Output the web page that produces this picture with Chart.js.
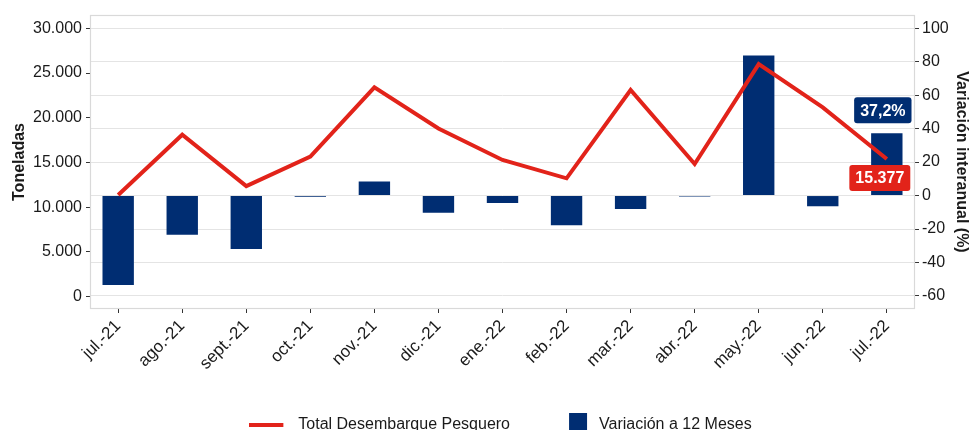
<!DOCTYPE html>
<html><head><meta charset="utf-8">
<script src="https://cdn.jsdelivr.net/npm/chart.js@4.4.1/dist/chart.umd.min.js"></script>
<style>html,body{margin:0;padding:0;overflow:hidden;background:#fff}canvas{display:block}</style>
</head><body>
<canvas id="c" width="971" height="460"></canvas>
<script>
const categories = ['jul.-21','ago.-21','sept.-21','oct.-21','nov.-21','dic.-21','ene.-22','feb.-22','mar.-22','abr.-22','may.-22','jun.-22','jul.-22'];
const desembarque = [11350, 18100, 12350, 15640, 23400, 18800, 15270, 13220, 23100, 14820, 26000, 21160, 15377];
const variacion = [-53.4, -23.5, -32.0, -0.7, 8.4, -10.3, -4.5, -17.7, -8.1, -0.6, 83.7, -6.4, 37.2];
const leftTicks = [0, 5000, 10000, 15000, 20000, 25000, 30000];
const rightTicks = [-60, -40, -20, 0, 20, 40, 60, 80, 100];
const seriesNames = ['Total Desembarque Pesquero', 'Variación a 12 Meses'];
const axisTitles = ['Toneladas', 'Variación interanual (%)'];

const NAVY = '#002D72';
const RED = '#E2231A';
const TEXT = '#1a1a1a';
const FONT = "'Liberation Sans', Arial, sans-serif";

function fmtThousands(v) { return String(v).replace(/\B(?=(\d{3})+(?!\d))/g, '.'); }
function fmtPct(v) { return v.toFixed(1).replace('.', ',') + '%'; }

function swatch(w, h, draw) {
  const c = document.createElement('canvas');
  c.width = w; c.height = h;
  draw(c.getContext('2d'));
  return c;
}
const lineSwatch = swatch(41, 4, g => { g.fillStyle = RED; g.fillRect(0, 0, 34, 4); });
const barSwatch = swatch(41, 24, g => { g.fillStyle = NAVY; g.fillRect(19, 0, 18, 18); });

Chart.defaults.font.family = FONT;
Chart.defaults.color = TEXT;

const panelBorder = {
  id: 'panelBorder',
  beforeDatasetsDraw(chart) {
    const {ctx, chartArea: a} = chart;
    ctx.save();
    ctx.strokeStyle = '#D9D9D9';
    ctx.lineWidth = 1.2;
    ctx.strokeRect(a.left + 0.5, a.top + 0.5, a.right - a.left - 1, a.bottom - a.top - 1);
    ctx.restore();
  }
};

const boxLabels = {
  id: 'boxLabels',
  afterDatasetsDraw(chart) {
    const {ctx, scales} = chart;
    const i = categories.length - 1;
    const x = scales.x.getPixelForValue(i);
    function draw(text, cx, cy, bg) {
      ctx.save();
      ctx.font = 'bold 16px ' + FONT;
      const w = ctx.measureText(text).width + 12, h = 26;
      ctx.fillStyle = bg;
      ctx.beginPath();
      ctx.roundRect(cx - w / 2, cy - h / 2, w, h, 3);
      ctx.fill();
      ctx.fillStyle = '#fff';
      ctx.textAlign = 'center';
      ctx.textBaseline = 'middle';
      ctx.fillText(text, cx, cy + 1);
      ctx.restore();
    }
    draw(fmtPct(variacion[i]), x - 4, scales.yR.getPixelForValue(variacion[i]) - 23, NAVY);
    draw(fmtThousands(desembarque[i]), x - 7, scales.yL.getPixelForValue(desembarque[i]) + 19, RED);
  }
};

const legendShift = {
  id: 'legendShift',
  afterLayout(chart) {
    if (chart.legend) { chart.legend.left += 15; chart.legend.right += 15; }
  }
};

new Chart(document.getElementById('c'), {
  type: 'bar',
  data: {
    datasets: [
      {
        type: 'line',
        label: seriesNames[0],
        data: desembarque.map((v, i) => ({x: i, y: v})),
        yAxisID: 'yL',
        borderColor: RED,
        backgroundColor: RED,
        borderWidth: 4,
        pointRadius: 0,
        tension: 0,
        order: 0
      },
      {
        type: 'bar',
        label: seriesNames[1],
        data: variacion.map((v, i) => ({x: i, y: v})),
        yAxisID: 'yR',
        backgroundColor: NAVY,
        borderWidth: 0,
        categoryPercentage: 1,
        barPercentage: 0.49,
        order: 1
      }
    ]
  },
  options: {
    responsive: false,
    devicePixelRatio: 1,
    animation: false,
    layout: {padding: {top: 15, bottom: 17.5, left: 0, right: 0}},
    plugins: {
      tooltip: {enabled: false},
      legend: {
        position: 'bottom',
        labels: {
          usePointStyle: true,
          pointStyleWidth: 41,
          padding: 40,
          color: TEXT,
          font: {size: 16},
          generateLabels(chart) {
            const items = Chart.defaults.plugins.legend.labels.generateLabels(chart);
            items.forEach(it => { it.pointStyle = it.datasetIndex === 0 ? lineSwatch : barSwatch; it.fontColor = TEXT; });
            return items;
          }
        }
      }
    },
    scales: {
      x: {
        type: 'linear',
        min: -0.44,
        max: 12.44,
        offset: false,
        afterBuildTicks(s) { s.ticks = categories.map((c, i) => ({value: i})); },
        afterFit(s) { s.height = 67.5; },
        grid: {drawOnChartArea: false, drawTicks: true, tickLength: 4, tickColor: '#333', offset: false},
        border: {display: false},
        ticks: {
          autoSkip: false,
          minRotation: 45,
          maxRotation: 45,
          padding: 3,
          color: TEXT,
          font: {size: 17},
          callback(v) { return categories[v]; }
        }
      },
      yL: {
        type: 'linear',
        position: 'left',
        min: -1400,
        max: 31490,
        afterBuildTicks(s) { s.ticks = leftTicks.map(v => ({value: v})); },
        afterFit(s) { s.width = 90; },
        grid: {drawOnChartArea: false, drawTicks: true, tickLength: 4, tickColor: '#333'},
        border: {display: false},
        ticks: {padding: 4, color: TEXT, font: {size: 16}, callback(v) { return fmtThousands(v); }},
        title: {display: true, text: axisTitles[0], color: TEXT, font: {size: 16, weight: 'bold'}, padding: {top: 10, bottom: 0}}
      },
      yR: {
        type: 'linear',
        position: 'right',
        min: -67.8,
        max: 107.9,
        afterBuildTicks(s) { s.ticks = rightTicks.map(v => ({value: v})); },
        afterFit(s) { s.width = 56; },
        grid: {drawOnChartArea: true, color: '#E4E4E4', lineWidth: 1, drawTicks: true, tickLength: 4, tickColor: '#333'},
        border: {display: false},
        ticks: {padding: 3, color: TEXT, font: {size: 16}, callback(v) { return String(v); }},
        title: {display: true, text: axisTitles[1], color: TEXT, font: {size: 16, weight: 'bold'}, padding: {top: 0, bottom: 0}}
      }
    }
  },
  plugins: [panelBorder, boxLabels, legendShift]
});
</script>
</body></html>
